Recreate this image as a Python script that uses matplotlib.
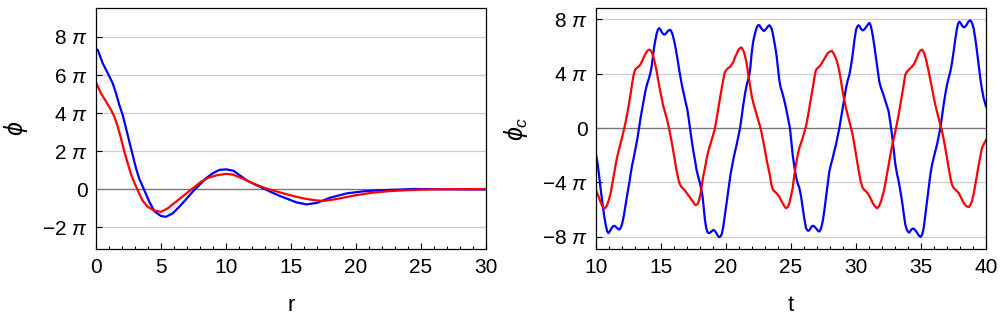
"""Two-panel profile / time-series plot (phi(r) and phi_c(t))."""
import numpy as np
import matplotlib
matplotlib.use("Agg")
import matplotlib.pyplot as plt

# --- left panel: phi(r), values in units of pi ---
r_blue = [0.0, 0.13, 0.51, 0.9, 1.28, 1.54, 1.79, 2.05, 2.31, 2.56, 2.82, 3.08, 3.33,
          3.72, 4.1, 4.49, 5.0, 5.38, 5.9, 6.41, 6.92, 7.44, 7.95, 8.46, 8.97, 9.49,
          10.0, 10.56, 11.1, 11.6, 12.1, 12.87, 13.5, 14.15, 14.8, 15.4, 16.2, 17.0,
          18.0, 19.3, 20.6, 21.8, 23.1, 24.4, 26.0, 28.0, 30.0]
phi_blue = [7.37, 7.33, 6.63, 6.1, 5.58, 5.05, 4.44, 3.91, 3.21, 2.51, 1.81, 1.1, 0.55,
            -0.05, -0.65, -1.15, -1.4, -1.44, -1.26, -0.91, -0.53, -0.12, 0.23, 0.58,
            0.84, 1.02, 1.05, 0.98, 0.72, 0.47, 0.3, 0.05, -0.15, -0.35, -0.52, -0.68,
            -0.79, -0.71, -0.44, -0.21, -0.1, -0.05, -0.02, 0.02, 0.01, 0.0, -0.01]

r_red = [0.0, 0.38, 0.77, 1.15, 1.41, 1.67, 1.92, 2.18, 2.44, 2.69, 2.95, 3.21, 3.59,
         3.97, 4.49, 5.0, 5.51, 6.15, 6.79, 7.44, 8.08, 8.72, 9.36, 10.0, 10.5, 11.0,
         11.6, 12.2, 12.87, 13.5, 14.15, 14.8, 15.4, 16.0, 16.7, 17.5, 18.5, 19.8,
         21.1, 22.4, 23.7, 25.7, 28.0, 30.0]
phi_red = [5.61, 5.05, 4.61, 4.18, 3.82, 3.3, 2.68, 1.98, 1.37, 0.8, 0.35, -0.05, -0.6,
           -0.91, -1.12, -1.18, -1.0, -0.65, -0.3, 0.05, 0.4, 0.63, 0.75, 0.81, 0.78,
           0.65, 0.47, 0.28, 0.1, -0.03, -0.16, -0.28, -0.39, -0.48, -0.56, -0.61,
           -0.51, -0.33, -0.19, -0.1, -0.05, 0.0, 0.01, 0.02]

# --- right panel: phi_c(t), values in units of pi ---
t_blue = [10.0, 10.12, 10.23, 10.36, 10.49, 10.62, 10.74, 10.85, 10.95, 11.06, 11.18,
          11.32, 11.45, 11.62, 11.8, 11.92, 12.03, 12.15, 12.28, 12.41, 12.54, 12.66,
          12.79, 12.92, 13.05, 13.18, 13.3, 13.43, 13.56, 13.69, 13.82, 13.95, 14.08,
          14.17, 14.26, 14.36, 14.46, 14.57, 14.67, 14.77, 14.86, 14.97, 15.08, 15.19,
          15.29, 15.42, 15.54, 15.65, 15.74, 15.87, 16.0, 16.13, 16.26, 16.38, 16.51,
          16.64, 16.77, 16.9, 17.03, 17.13, 17.23, 17.36, 17.49, 17.62, 17.74, 17.87,
          18.0, 18.1, 18.2, 18.29, 18.38, 18.47, 18.56, 18.64, 18.72, 18.81, 18.9,
          19.03, 19.13, 19.23, 19.36, 19.47, 19.57, 19.67, 19.74, 19.8, 19.9, 20.0,
          20.09, 20.18, 20.27, 20.36, 20.46, 20.56, 20.69, 20.82, 20.95, 21.08, 21.2,
          21.33, 21.46, 21.59, 21.72, 21.8, 21.88, 21.97, 22.1, 22.23, 22.33, 22.41,
          22.5, 22.58, 22.67, 22.76, 22.87, 22.95, 23.05, 23.15, 23.25, 23.33, 23.42,
          23.51, 23.6, 23.69, 23.8, 23.9, 24.0, 24.1, 24.2, 24.3, 24.41, 24.54, 24.67,
          24.8, 24.92, 25.02, 25.13, 25.25, 25.38, 25.51, 25.64, 25.77, 25.9, 26.02,
          26.15, 26.24, 26.33, 26.44, 26.55, 26.63, 26.72, 26.84, 26.95, 27.07, 27.18,
          27.28, 27.36, 27.44, 27.56, 27.69, 27.82, 27.95, 28.08, 28.21, 28.33, 28.46,
          28.59, 28.72, 28.85, 28.97, 29.1, 29.23, 29.36, 29.49, 29.62, 29.74, 29.87,
          30.0, 30.09, 30.18, 30.27, 30.38, 30.47, 30.56, 30.68, 30.8, 30.93, 31.05,
          31.14, 31.21, 31.28, 31.41, 31.54, 31.67, 31.79, 31.92, 32.06, 32.26, 32.39,
          32.51, 32.64, 32.77, 32.9, 33.03, 33.15, 33.28, 33.41, 33.54, 33.67, 33.79,
          33.92, 34.03, 34.1, 34.2, 34.3, 34.41, 34.55, 34.7, 34.85, 34.97, 35.08,
          35.15, 35.21, 35.33, 35.46, 35.59, 35.72, 35.84, 35.97, 36.1, 36.23, 36.36,
          36.49, 36.61, 36.74, 36.87, 37.0, 37.13, 37.26, 37.39, 37.51, 37.64, 37.77,
          37.86, 37.95, 38.05, 38.15, 38.26, 38.36, 38.48, 38.6, 38.7, 38.8, 38.92,
          39.05, 39.18, 39.31, 39.44, 39.56, 39.69, 39.82, 39.91, 40.0]
phic_blue = [-1.96, -2.6, -3.42, -4.5, -5.5, -6.4, -7.09, -7.55, -7.72, -7.6, -7.38,
             -7.22, -7.19, -7.35, -7.47, -7.3, -6.97, -6.4, -5.62, -4.85, -4.16, -3.4,
             -2.69, -2.1, -1.47, -0.8, -0.05, 0.75, 1.47, 2.15, 2.81, 3.3, 3.67, 4.0,
             4.4, 5.1, 5.87, 6.5, 6.97, 7.25, 7.35, 7.22, 7.02, 6.9, 6.88, 7.0, 7.14,
             7.22, 7.2, 6.95, 6.48, 5.85, 5.13, 4.4, 3.67, 3.0, 2.44, 1.9, 1.34, 0.7,
             0.0, -0.9, -1.71, -2.4, -3.1, -3.6, -4.06, -4.5, -5.04, -5.9, -6.75, -7.3,
             -7.61, -7.72, -7.73, -7.66, -7.58, -7.49, -7.55, -7.68, -7.9, -8.02, -7.98,
             -7.8, -7.5, -7.2, -6.5, -5.77, -5.15, -4.55, -3.9, -3.33, -2.85, -2.32,
             -1.75, -1.22, -0.6, 0.0, 0.85, 1.71, 2.5, 3.18, 3.6, 3.95, 4.5, 5.48, 6.4,
             6.95, 7.3, 7.49, 7.58, 7.55, 7.4, 7.28, 7.16, 7.15, 7.25, 7.38, 7.5, 7.56,
             7.48, 7.3, 6.95, 6.46, 5.9, 5.24, 4.4, 3.52, 3.0, 2.7, 2.32, 1.8, 1.22, 0.6,
             0.0, -0.9, -1.96, -2.8, -3.55, -4.05, -4.4, -5.0, -5.87, -6.65, -7.33, -7.5,
             -7.56, -7.48, -7.3, -7.2, -7.19, -7.28, -7.4, -7.55, -7.61, -7.45, -7.2,
             -6.85, -6.1, -5.13, -4.1, -3.18, -2.65, -2.2, -1.7, -1.22, -0.6, 0.0, 0.75,
             1.47, 2.2, 2.93, 3.5, 3.91, 4.6, 5.38, 6.4, 7.21, 7.45, 7.56, 7.5, 7.3, 7.2,
             7.19, 7.3, 7.45, 7.65, 7.73, 7.5, 7.2, 6.85, 6.05, 5.13, 4.2, 3.42, 2.95,
             2.6, 2.0, 1.6, 1.22, 0.4, -0.49, -1.6, -2.69, -3.35, -3.91, -4.6, -5.38,
             -6.3, -7.09, -7.5, -7.65, -7.68, -7.55, -7.42, -7.39, -7.5, -7.7, -7.92,
             -8.0, -7.85, -7.6, -7.33, -6.4, -5.38, -4.35, -3.42, -2.75, -2.2, -1.7,
             -1.22, -0.6, 0.0, 0.85, 1.71, 2.5, 3.18, 3.7, 4.16, 4.85, 5.62, 6.55, 7.33,
             7.7, 7.82, 7.72, 7.55, 7.42, 7.42, 7.55, 7.75, 7.88, 7.92, 7.75, 7.33, 6.55,
             5.62, 4.6, 3.67, 2.85, 2.2, 1.9, 1.59]

t_red = [10.0, 10.12, 10.23, 10.36, 10.49, 10.58, 10.68, 10.78, 10.87, 11.0, 11.13,
         11.25, 11.38, 11.51, 11.64, 11.77, 11.9, 12.03, 12.15, 12.28, 12.41, 12.54,
         12.67, 12.8, 12.92, 13.02, 13.13, 13.25, 13.38, 13.51, 13.64, 13.8, 13.95,
         14.05, 14.15, 14.28, 14.41, 14.54, 14.67, 14.8, 14.92, 15.05, 15.18, 15.31,
         15.44, 15.57, 15.69, 15.82, 15.95, 16.08, 16.21, 16.33, 16.46, 16.59, 16.72,
         16.85, 16.97, 17.1, 17.23, 17.36, 17.49, 17.6, 17.69, 17.8, 17.88, 17.97,
         18.05, 18.13, 18.2, 18.3, 18.38, 18.51, 18.64, 18.77, 18.9, 19.03, 19.15,
         19.28, 19.41, 19.54, 19.67, 19.8, 19.92, 20.05, 20.18, 20.31, 20.44, 20.56,
         20.69, 20.82, 20.95, 21.08, 21.2, 21.3, 21.38, 21.46, 21.54, 21.63, 21.72,
         21.85, 21.97, 22.1, 22.23, 22.36, 22.49, 22.62, 22.75, 22.87, 23.0, 23.13,
         23.25, 23.38, 23.48, 23.59, 23.72, 23.85, 23.97, 24.1, 24.23, 24.36, 24.49,
         24.62, 24.75, 24.87, 25.0, 25.13, 25.25, 25.38, 25.51, 25.64, 25.77, 25.9,
         26.02, 26.15, 26.28, 26.41, 26.54, 26.67, 26.8, 26.92, 27.05, 27.18, 27.31,
         27.44, 27.63, 27.82, 27.98, 28.15, 28.3, 28.46, 28.59, 28.72, 28.85, 28.97,
         29.1, 29.23, 29.36, 29.49, 29.62, 29.74, 29.87, 30.0, 30.13, 30.26, 30.38,
         30.51, 30.64, 30.77, 30.9, 31.03, 31.16, 31.28, 31.45, 31.62, 31.77, 31.92,
         32.01, 32.1, 32.2, 32.3, 32.41, 32.51, 32.64, 32.77, 32.9, 33.03, 33.15,
         33.28, 33.41, 33.54, 33.67, 33.79, 33.92, 34.05, 34.18, 34.31, 34.44, 34.56,
         34.69, 34.82, 34.95, 35.08, 35.2, 35.33, 35.46, 35.59, 35.72, 35.85, 35.97,
         36.1, 36.23, 36.36, 36.49, 36.62, 36.74, 36.87, 37.0, 37.13, 37.25, 37.38,
         37.51, 37.64, 37.77, 37.9, 38.02, 38.15, 38.28, 38.41, 38.55, 38.69, 38.8,
         38.92, 39.05, 39.18, 39.31, 39.44, 39.57, 39.69, 39.85, 40.0]
phic_red = [-4.55, -4.85, -5.13, -5.45, -5.75, -5.86, -5.9, -5.8, -5.62, -5.25, -4.77,
            -4.1, -3.42, -2.7, -2.08, -1.55, -1.1, -0.6, -0.12, 0.45, 1.1, 1.8, 2.57,
            3.4, 4.03, 4.3, 4.42, 4.5, 4.62, 4.85, 5.13, 5.45, 5.67, 5.75, 5.75, 5.6,
            5.26, 4.75, 4.16, 3.45, 2.81, 2.2, 1.59, 1.15, 0.73, 0.2, -0.37, -1.0,
            -1.71, -2.45, -3.18, -3.75, -4.16, -4.35, -4.47, -4.6, -4.77, -4.95, -5.1,
            -5.3, -5.45, -5.62, -5.67, -5.6, -5.45, -5.15, -4.8, -4.35, -3.82, -3.3,
            -2.95, -2.25, -1.71, -1.28, -0.86, -0.45, 0.0, 0.7, 1.47, 2.2, 2.93, 3.6,
            4.13, 4.3, 4.42, 4.5, 4.68, 4.85, 5.2, 5.45, 5.75, 5.88, 5.92, 5.75, 5.6,
            5.3, 4.99, 4.5, 3.89, 3.1, 2.4, 1.85, 1.4, 0.98, 0.55, 0.12, -0.4, -0.98,
            -1.65, -2.35, -2.9, -3.5, -4.1, -4.5, -4.65, -4.75, -4.9, -5.04, -5.3, -5.53,
            -5.75, -5.9, -5.8, -5.53, -5.0, -4.4, -3.5, -2.69, -2.0, -1.47, -1.1, -0.73,
            -0.3, 0.12, 0.75, 1.47, 2.2, 2.93, 3.7, 4.28, 4.42, 4.52, 4.68, 4.89, 5.2,
            5.5, 5.62, 5.67, 5.45, 5.13, 4.7, 4.16, 3.45, 2.69, 2.05, 1.47, 0.95, 0.49,
            0.0, -0.49, -1.2, -1.96, -2.7, -3.42, -4.0, -4.4, -4.55, -4.65, -4.8, -5.01,
            -5.25, -5.5, -5.75, -5.9, -5.75, -5.4, -5.1, -4.8, -4.35, -3.85, -3.25,
            -2.69, -2.0, -1.34, -0.8, -0.24, 0.35, 0.98, 1.7, 2.44, 3.2, 3.91, 4.15,
            4.28, 4.4, 4.52, 4.68, 4.89, 5.2, 5.5, 5.7, 5.77, 5.6, 5.26, 4.75, 4.16,
            3.55, 2.93, 2.3, 1.71, 1.2, 0.73, 0.25, -0.24, -0.8, -1.47, -2.2, -2.93,
            -3.6, -4.16, -4.4, -4.52, -4.63, -4.77, -5.0, -5.26, -5.5, -5.67, -5.78,
            -5.8, -5.65, -5.38, -4.85, -4.16, -3.4, -2.69, -2.05, -1.47, -1.15, -0.88]

left_yticks = [-2, 0, 2, 4, 6, 8]
left_ylabels = ["\u22122 $\\pi$", "0", "2 $\\pi$", "4 $\\pi$", "6 $\\pi$", "8 $\\pi$"]
right_yticks = [-8, -4, 0, 4, 8]
right_ylabels = ["\u22128 $\\pi$", "\u22124 $\\pi$", "0", "4 $\\pi$", "8 $\\pi$"]

plt.rcParams["font.family"] = ["Liberation Sans", "DejaVu Sans"]
plt.rcParams["mathtext.fontset"] = "custom"
plt.rcParams["mathtext.rm"] = "Liberation Sans"
plt.rcParams["mathtext.it"] = "Liberation Sans:italic"


def style_axes(ax, yticks, ylabels, xlim, ylim, xmajor):
    ax.set_xlim(*xlim)
    ax.set_ylim(ylim[0] * np.pi, ylim[1] * np.pi)
    ax.set_xticks(np.arange(xlim[0], xlim[1] + 0.1, xmajor))
    ax.set_xticks(np.arange(xlim[0], xlim[1] + 0.1, 1), minor=True)
    ax.set_yticks([v * np.pi for v in yticks])
    ax.set_yticklabels(ylabels)
    ax.tick_params(which="both", direction="in", top=False, right=False,
                   labelsize=15, width=0.8)
    ax.tick_params(axis="both", which="major", length=4.5, pad=6)
    ax.tick_params(axis="x", which="minor", length=2.5)
    ax.yaxis.grid(True, color="#cccccc", linewidth=0.9)
    ax.set_axisbelow(True)
    ax.axhline(0, color="#777777", linewidth=0.9, zorder=1.5)
    for s in ax.spines.values():
        s.set_linewidth(0.9)


def main():
    fig = plt.figure(figsize=(10, 3.23), dpi=100)

    ax1 = fig.add_axes([0.096, 0.228, 0.39, 0.746])
    ax1.plot(r_blue, np.array(phi_blue) * np.pi, color="#0000ff", linewidth=1.6)
    ax1.plot(r_red, np.array(phi_red) * np.pi, color="#ff0000", linewidth=1.6)
    style_axes(ax1, left_yticks, left_ylabels, (0, 30), (-3.15, 9.5), 5)
    ax1.set_xlabel("r", fontsize=16)
    ax1.set_ylabel("$\\phi$", fontsize=18)
    ax1.xaxis.set_label_coords(0.5, -0.19)
    ax1.yaxis.set_label_coords(-0.17, 0.5)

    ax2 = fig.add_axes([0.596, 0.228, 0.39, 0.746])
    ax2.plot(t_blue, np.array(phic_blue) * np.pi, color="#0000ff", linewidth=1.6)
    ax2.plot(t_red, np.array(phic_red) * np.pi, color="#ff0000", linewidth=1.6)
    style_axes(ax2, right_yticks, right_ylabels, (10, 40), (-8.92, 8.8), 5)
    ax2.set_xlabel("t", fontsize=16)
    ax2.set_ylabel("$\\phi_c$", fontsize=18)
    ax2.xaxis.set_label_coords(0.5, -0.19)
    ax2.yaxis.set_label_coords(-0.17, 0.5)

    fig.savefig("out.png", dpi=100)
    plt.close(fig)


if __name__ == "__main__":
    main()
